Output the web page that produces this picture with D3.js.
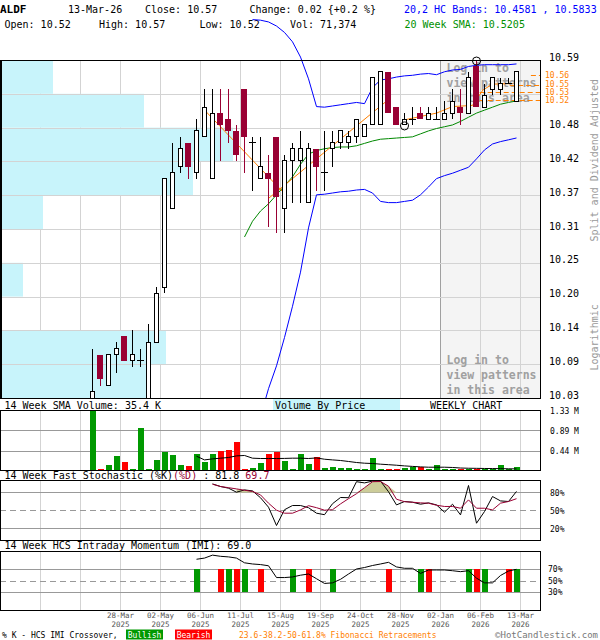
<!DOCTYPE html>
<html><head><meta charset="utf-8">
<script src="https://cdn.jsdelivr.net/npm/d3@7"></script>
<style>
body{margin:0;background:#fff;}
svg{display:block;font-family:"DejaVu Sans Mono","Liberation Mono",monospace;}
</style></head><body>
<svg id="c" width="600" height="640"></svg>
<script>
// ---------------- DATA ----------------
const ticker = "ALDF";
const lastDate = "13-Mar-26";
const lastVolumeText = "71,374";
const changePctText = "{+0.2 %}";
const open  = [10.02,10.10,10.05,10.10,10.13,10.09,10.09,10.02,10.12,10.21,10.34,10.41,10.45,10.40,10.46,10.39,10.50,10.49,10.47,10.54,10.45,10.39,10.40,10.46,10.34,10.42,10.42,10.35,10.44,10.40,10.44,10.45,10.45,10.46,10.46,10.48,10.48,10.57,10.51,10.48,10.49,10.50,10.49,10.49,10.49,10.50,10.51,10.50,10.58,10.51,10.54,10.54,10.55,10.52];
const high  = [10.11,10.10,10.10,10.12,10.13,10.14,10.11,10.15,10.21,10.39,10.45,10.46,10.45,10.49,10.54,10.54,10.54,10.54,10.48,10.54,10.46,10.46,10.43,10.46,10.43,10.45,10.47,10.45,10.44,10.47,10.47,10.47,10.47,10.49,10.48,10.56,10.57,10.57,10.51,10.50,10.51,10.51,10.51,10.51,10.52,10.54,10.54,10.57,10.59,10.55,10.56,10.56,10.56,10.57];
const low   = [10.02,10.05,10.05,10.07,10.09,10.08,10.08,10.02,10.12,10.20,10.34,10.40,10.39,10.39,10.46,10.39,10.42,10.45,10.42,10.40,10.37,10.39,10.31,10.30,10.30,10.35,10.35,10.35,10.37,10.37,10.41,10.44,10.44,10.45,10.46,10.48,10.48,10.50,10.48,10.48,10.48,10.49,10.49,10.49,10.49,10.49,10.48,10.50,10.51,10.51,10.53,10.53,10.55,10.52];
const close = [10.04,10.06,10.10,10.11,10.09,10.10,10.09,10.12,10.20,10.39,10.40,10.44,10.41,10.47,10.51,10.50,10.48,10.47,10.43,10.46,10.45,10.41,10.39,10.36,10.42,10.44,10.44,10.44,10.41,10.40,10.45,10.47,10.46,10.49,10.48,10.56,10.57,10.50,10.48,10.49,10.49,10.49,10.50,10.49,10.50,10.52,10.50,10.56,10.51,10.53,10.56,10.55,10.55,10.57];
const volumeM = [1.33,0.03,0.12,0.32,0.18,0.03,0.94,0.03,0.23,0.41,0.34,0.12,0.10,0.36,0.18,0.36,0.43,0.45,0.63,0.03,0.05,0.16,0.36,0.41,0.21,0.03,0.36,0.14,0.29,0.05,0.07,0.05,0.05,0.03,0.03,0.27,0.03,0.03,0.03,0.05,0.07,0.07,0.03,0.12,0.03,0.03,0.03,0.03,0.03,0.03,0.03,0.12,0.03,0.071];

const smaStart = 19;
const sma20 = [10.293,10.319,10.336,10.348,10.363,10.378,10.393,10.414,10.431,10.437,10.440,10.442,10.443,10.443,10.445,10.449,10.453,10.456,10.457,10.458,10.459,10.460,10.465,10.470,10.474,10.477,10.480,10.486,10.493,10.500,10.505,10.510,10.515,10.518,10.5205];
const bandStart = 20;
const upperBand = [10.659,10.658,10.655,10.648,10.637,10.621,10.595,10.558,10.511,10.510,10.512,10.514,10.516,10.518,10.516,10.543,10.556,10.558,10.561,10.563,10.564,10.566,10.567,10.565,10.570,10.573,10.574,10.579,10.581,10.582,10.582,10.582,10.582,10.5833];
const lowerBand = [9.98,10.00,10.045,10.082,10.128,10.179,10.235,10.308,10.363,10.364,10.366,10.368,10.369,10.371,10.372,10.366,10.352,10.350,10.350,10.352,10.354,10.363,10.376,10.390,10.395,10.399,10.404,10.409,10.423,10.438,10.448,10.452,10.455,10.4581];

const volSmaStart = 13;
const volSma14 = [0.317,0.235,0.257,0.273,0.288,0.324,0.333,0.273,0.266,0.266,0.266,0.268,0.273,0.273,0.266,0.279,0.250,0.235,0.222,0.200,0.177,0.162,0.155,0.140,0.129,0.117,0.102,0.091,0.080,0.073,0.073,0.073,0.067,0.055,0.050,0.048,0.045,0.043,0.041,0.038,0.0354];

const stochStart = 15;
const stochK = [94.3,90,87.2,80.5,84.3,82.7,71.3,55.5,25,51.3,58.3,58.3,54.7,45.5,43,61.3,71.7,71.3,98,96,99,99,81.3,59.3,65,63.8,60.5,62.7,59.3,47.2,60.5,42.7,91.7,28.8,48.3,73.3,66,65,81.8];
const stochD = [93.8,90,88,86,83.8,81.7,76,62.2,50.5,45.5,45.5,51,58,54.7,50.5,51.3,61,69.7,78,88,98,98.3,90.5,68.8,64.7,63.8,62.7,62.2,58.8,56.7,56.7,53.8,67.7,53.8,53.8,51,62.2,65,69.7];
const stochFillRanges = [[18,21],[32,39]];

const imiStart = 13;
const imi = [86,88,93,91,90,88,80,78,77,75,55,55,56,59,61,53,45,46,52,61,69.5,72,75.4,78,80.8,73,70.7,70.7,62,67.8,67.8,67.8,66.6,65,66.6,54,46,46,58.5,66,69];
const imiSignalIdx  = [13,16,17,18,19,21,25,27,30,37,41,42,47,48,49,52,53];
const imiSignalType = ["bull","bear","bull","bear","bull","bear","bull","bear","bull","bear","bull","bear","bull","bear","bull","bear","bull"];

// volume by price, bottom bin to top bin (millions of shares)
const vbpVolumeM = [1.47,1.66,0,0.23,0,0.43,1.93,2.33,1.44,0.53];

// Fibonacci
const fibLevels = [10.564,10.548,10.535,10.522];
const fibLabels = ["10.56","10.55","10.53","10.52"];
const fibStartIdx = [54.8,52.2,48.4,48.4];
const swingIdx = [39,48];
const swingPrice = [10.48,10.59];
const trendLines = [
  [[13.8,10.508],[24.0,10.365]],
  [[22.0,10.357],[37.0,10.523]],
  [[38.8,10.488],[43,10.500],[45,10.511],[47.5,10.513],[48.8,10.539],[50,10.549],[52.5,10.550]]
];

// axes
const priceTickLabels = ["10.03","10.09","10.14","10.20","10.25","10.31","10.37","10.42","10.48","","10.59"];
const gridIdx = [-7,-2,3,8,13,18,23,28,33,38,43,48,53];
const dateTickIdx = [3,8,13,18,23,28,33,38,43,48,53];
const dateLabels = ["28-Mar","02-May","06-Jun","11-Jul","15-Aug","19-Sep","24-Oct","28-Nov","02-Jan","06-Feb","13-Mar"];
const yearLabels = ["2025","2025","2025","2025","2025","2025","2025","2025","2026","2026","2026"];
const volTicks = [1.33,0.89,0.44];
const volTickLabels = ["1.33 M","0.89 M","0.44 M"];
const stochTicks = [80,50,20];
const imiTicks = [70,50,30];
const patternAreaIdx = 43;

// ---------------- DRAW ----------------
const svg = d3.select("#c");
const N = open.length;
const RED = "#990033", GRN = "#009900", BRED = "#ff0000", CYAN = "#c8f4fb", ORANGE = "#ff8000";
const x = d3.scaleLinear().domain([0, N-1]).range([92.5, 516.5]);
const gx = i => x(i) + 3.5;
const PL = 0, PR = 540, PT = 60, PB = 398;
const yP = d3.scaleLog().domain([10.03, 10.59]).range([PB, PT]);
const yV = d3.scaleLinear().domain([0, 1.33]).range([470.5, 410.5]);
const yS = d3.scaleLinear().domain([0, 100]).range([540.5, 480.5]);
const yI = d3.scaleLinear().domain([0, 100]).range([610, 551]);
const vbpX = d3.scaleLinear().domain([0, 5.4]).range([0, 540]);

svg.append("rect").attr("width",600).attr("height",640).attr("fill","#fff");

function txt(g, xx, yy, s, opt={}) {
  const t = g.append("text").attr("x",xx).attr("y",yy).text(s)
    .attr("font-size", opt.size || 10).attr("fill", opt.fill || "#000");
  if (opt.weight) t.attr("font-weight", opt.weight);
  if (opt.anchor) t.attr("text-anchor", opt.anchor);
  return t;
}
// header
const hdr = svg.append("g");
txt(hdr, 0, 12.5, ticker, {weight:"bold", size:11});
txt(hdr, 68, 12.5, lastDate);
txt(hdr, 145, 12.5, "Close: " + close[N-1].toFixed(2));
txt(hdr, 249.5, 12.5, "Change: " + (close[N-1]-close[N-2]).toFixed(2) + " " + changePctText);
txt(hdr, 404, 12.5, "20,2 HC Bands: " + lowerBand[lowerBand.length-1].toFixed(4) + " , " + upperBand[upperBand.length-1].toFixed(4), {fill:"#0000ff"});
txt(hdr, 4.5, 28, "Open: " + open[N-1].toFixed(2));
txt(hdr, 99, 28, "High: " + high[N-1].toFixed(2));
txt(hdr, 199.5, 28, "Low: " + low[N-1].toFixed(2));
txt(hdr, 290, 28, "Vol: " + lastVolumeText);
txt(hdr, 404.5, 28, "20 Week SMA: " + sma20[sma20.length-1].toFixed(4), {fill:"#009000"});

// clip
const defs = svg.append("defs");
defs.append("clipPath").attr("id","plotclip").append("rect").attr("x",PL).attr("y",PT).attr("width",PR-PL).attr("height",PB-PT);
defs.append("clipPath").attr("id","bandclip").append("rect").attr("x",PL).attr("y",0).attr("width",PR-PL).attr("height",PB);

const main = svg.append("g");
main.append("rect").attr("x",gx(patternAreaIdx)).attr("y",PT).attr("width",PR-gx(patternAreaIdx)).attr("height",PB-PT).attr("fill","#f4f4f4");
main.selectAll("line.vg").data(gridIdx).join("line")
  .attr("x1",d=>gx(d)+0.5).attr("x2",d=>gx(d)+0.5).attr("y1",PT).attr("y2",PB)
  .attr("stroke",d=>d===patternAreaIdx?"#a0a0a0":"#d3d3d3").attr("stroke-width",1);
const lr = Math.log(10.59/10.03);
const binEdges = d3.range(11).map(k => 10.03*Math.exp(lr*k/10));
main.append("g").attr("clip-path","url(#plotclip)").selectAll("rect").data(vbpVolumeM).join("rect")
  .attr("x",PL).attr("y",(d,k)=>yP(binEdges[k+1])).attr("width",d=>vbpX(d))
  .attr("height",(d,k)=>yP(binEdges[k])-yP(binEdges[k+1])).attr("fill",CYAN);
main.selectAll("line.hg").data(binEdges).join("line")
  .attr("x1",PL).attr("x2",PR).attr("y1",d=>Math.round(yP(d))+0.5).attr("y2",d=>Math.round(yP(d))+0.5)
  .attr("stroke","#d3d3d3");
const loginLines = ["Log in to","view patterns","in this area"];
[71.5, 363.5].forEach(base => {
  loginLines.forEach((s,k) => txt(main, gx(patternAreaIdx)+6.5, base+15*k, s, {size:11.5, weight:"bold", fill:"#a0a0a0"}));
});
main.selectAll("line.fib").data(fibLevels).join("line")
  .attr("x1",(d,k)=>x(fibStartIdx[k])).attr("x2",PR)
  .attr("y1",d=>Math.round(yP(d))+0.5).attr("y2",d=>Math.round(yP(d))+0.5)
  .attr("stroke",ORANGE).attr("stroke-dasharray","5,3");
main.selectAll("text.fib").data(fibLevels).join("text")
  .attr("x",545).attr("y",d=>yP(d)+2.5).attr("font-size",8).attr("fill",ORANGE)
  .text((d,k)=>fibLabels[k]);

const lineFn = d3.line().x(d=>x(d[0])).y(d=>yP(d[1]));
const series = (arr, start) => arr.map((v,k)=>[start+k, v]);
const bandG = main.append("g").attr("clip-path","url(#bandclip)");
bandG.append("path").attr("d",lineFn(series(upperBand,bandStart))).attr("fill","none").attr("stroke","#0000ff");
bandG.append("path").attr("d",lineFn(series(lowerBand,bandStart))).attr("fill","none").attr("stroke","#0000ff");
const plotG = main.append("g").attr("clip-path","url(#plotclip)");
plotG.append("path").attr("d",lineFn(series(sma20,smaStart))).attr("fill","none").attr("stroke","#008800");
trendLines.forEach(tl => plotG.append("path").attr("d",lineFn(tl)).attr("fill","none").attr("stroke",ORANGE));

const cg = plotG.append("g").attr("shape-rendering","crispEdges");
d3.range(N).forEach(i => {
  const cx = x(i), o=open[i], c=close[i], h=high[i], l=low[i];
  const down = c < o, up = c > o;
  cg.append("line").attr("x1",cx).attr("x2",cx).attr("y1",yP(h)).attr("y2",yP(l)).attr("stroke",down?RED:"#000");
  if (up) {
    cg.append("rect").attr("x",cx-2).attr("y",yP(c)).attr("width",4).attr("height",Math.max(1,yP(o)-yP(c)))
      .attr("fill","#fff").attr("stroke","#000");
  } else if (down) {
    cg.append("rect").attr("x",cx-3.5).attr("y",yP(o)).attr("width",6).attr("height",Math.max(1,yP(c)-yP(o))).attr("fill",RED);
  } else {
    cg.append("line").attr("x1",cx-3.5).attr("x2",cx+3.5).attr("y1",yP(o)).attr("y2",yP(o)).attr("stroke","#000");
  }
});
main.selectAll("circle.sw").data(swingIdx).join("circle")
  .attr("cx",d=>x(d)).attr("cy",(d,k)=>yP(swingPrice[k])+1).attr("r",4)
  .attr("fill","none").attr("stroke","#000");
main.append("rect").attr("x",PL+0.5).attr("y",PT+0.5).attr("width",PR-PL).attr("height",PB-PT)
  .attr("fill","none").attr("stroke","#000");
main.append("line").attr("x1",1.5).attr("x2",1.5).attr("y1",PT).attr("y2",PB).attr("stroke","#000");
main.selectAll("text.pt").data(binEdges).join("text")
  .attr("x",549).attr("y",d=>yP(d)+0.5).attr("font-size",10).text((d,k)=>priceTickLabels[k]);
txt(main,0,0,"Split and Dividend Adjusted",{fill:"#999"}).attr("transform","translate(598,241.5) rotate(-90)");
txt(main,0,0,"Logarithmic",{fill:"#999"}).attr("transform","translate(598,370.5) rotate(-90)");

svg.append("rect").attr("x",273).attr("y",399).attr("width",127).attr("height",11).attr("fill",CYAN);
txt(svg, 4.5, 409, "14 Week SMA Volume: " + (volSma14[volSma14.length-1]*1000).toFixed(1) + " K");
txt(svg, 275, 409, "Volume By Price");
txt(svg, 430, 409, "WEEKLY CHART");

function panelGrid(g, y0, y1) {
  g.selectAll("line.vg").data(gridIdx).join("line")
    .attr("x1",d=>gx(d)+0.5).attr("x2",d=>gx(d)+0.5).attr("y1",y0).attr("y2",y1).attr("stroke","#d3d3d3");
}
const vp = svg.append("g");
panelGrid(vp, 410.5, 470.5);
vp.selectAll("line.hg").data(volTicks.slice(1)).join("line")
  .attr("x1",PL).attr("x2",PR).attr("y1",d=>Math.round(yV(d))+0.5).attr("y2",d=>Math.round(yV(d))+0.5).attr("stroke","#999");
vp.append("g").attr("shape-rendering","crispEdges").selectAll("rect").data(volumeM).join("rect")
  .attr("x",(d,i)=>x(i)-2.5).attr("width",6)
  .attr("y",d=>Math.min(yV(d),469.5)).attr("height",d=>Math.max(1,470.5-yV(d)))
  .attr("fill",(d,i)=>close[i]<open[i]?BRED:GRN);
vp.append("path").attr("d",d3.line().x(d=>x(d[0])).y(d=>yV(d[1]))(series(volSma14,volSmaStart)))
  .attr("fill","none").attr("stroke","#000");
vp.append("rect").attr("x",0.5).attr("y",410.5).attr("width",540).attr("height",60).attr("fill","none").attr("stroke","#000");
vp.selectAll("text.vt").data(volTicks).join("text").attr("x",550).attr("y",d=>yV(d)+3.5)
  .attr("font-size",8).text((d,k)=>volTickLabels[k]);

const sl = txt(svg, 4.5, 478.5, "14 Week Fast Stochastic (%K)");
sl.append("tspan").attr("fill",RED).text("(%D)");
sl.append("tspan").text(" : " + stochK[stochK.length-1].toFixed(1) + " ");
sl.append("tspan").attr("fill",RED).text(stochD[stochD.length-1].toFixed(1));
const sp = svg.append("g");
panelGrid(sp, 480.5, 540.5);
sp.selectAll("line.hg").data(stochTicks).join("line")
  .attr("x1",PL).attr("x2",PR).attr("y1",d=>yS(d)).attr("y2",d=>yS(d))
  .attr("stroke","#999").attr("stroke-dasharray",d=>d===50?"6,4":null);
const dSeries = series(stochD, stochStart), kSeries = series(stochK, stochStart);
stochFillRanges.forEach(([a,b]) => {
  const seg = dSeries.filter(d=>d[0]>=a && d[0]<=b);
  sp.append("path").attr("d", d3.area().x(d=>x(d[0])).y0(yS(80)).y1(d=>yS(Math.max(80,d[1])))(seg))
    .attr("fill","#cccc99");
});
const sLine = d3.line().x(d=>x(d[0])).y(d=>yS(d[1]));
sp.append("path").attr("d",sLine(kSeries)).attr("fill","none").attr("stroke","#000");
sp.append("path").attr("d",sLine(dSeries)).attr("fill","none").attr("stroke",RED);
sp.append("rect").attr("x",0.5).attr("y",480.5).attr("width",540).attr("height",60).attr("fill","none").attr("stroke","#000");
sp.selectAll("text.st").data(stochTicks).join("text").attr("x",550).attr("y",d=>yS(d)+3)
  .attr("font-size",8).text(d=>d+"%");

txt(svg, 4.5, 549, "14 Week HCS Intraday Momentum (IMI): " + imi[imi.length-1].toFixed(1));
const ip = svg.append("g");
panelGrid(ip, 551, 610);
ip.selectAll("line.hg").data(imiTicks).join("line")
  .attr("x1",PL).attr("x2",PR).attr("y1",d=>Math.round(yI(d))+0.5).attr("y2",d=>Math.round(yI(d))+0.5)
  .attr("stroke","#999").attr("stroke-dasharray",d=>d===50?"6,4":null);
ip.append("g").attr("shape-rendering","crispEdges").selectAll("rect").data(imiSignalIdx).join("rect")
  .attr("x",d=>x(d)-2.5).attr("width",6).attr("y",yI(70)).attr("height",yI(30)-yI(70))
  .attr("fill",(d,k)=>imiSignalType[k]==="bull"?GRN:BRED);
ip.append("path").attr("d",d3.line().x(d=>x(d[0])).y(d=>yI(d[1]))(series(imi,imiStart)))
  .attr("fill","none").attr("stroke","#000");
ip.append("rect").attr("x",0.5).attr("y",551.5).attr("width",540).attr("height",59).attr("fill","none").attr("stroke","#000");
ip.selectAll("text.it").data(imiTicks).join("text").attr("x",548).attr("y",d=>yI(d)+3)
  .attr("font-size",8).text(d=>d+"%");

const da = svg.append("g");
da.selectAll("text.d").data(dateTickIdx).join("text").attr("x",d=>gx(d)+0.5).attr("y",618)
  .attr("text-anchor","middle").attr("font-size",7.5).attr("fill","#555").text((d,k)=>dateLabels[k]);
da.selectAll("text.y").data(dateTickIdx).join("text").attr("x",d=>gx(d)+0.5).attr("y",627)
  .attr("text-anchor","middle").attr("font-size",7.5).attr("fill","#555").text((d,k)=>yearLabels[k]);

const lg = svg.append("g");
txt(lg, 2, 637.5, "% K - HCS IMI Crossover,", {size:8});
lg.append("rect").attr("x",126).attr("y",629.5).attr("width",37).attr("height",10).attr("fill",GRN);
txt(lg, 144.5, 637.5, "Bullish", {size:8, fill:"#fff", anchor:"middle"});
lg.append("rect").attr("x",175).attr("y",629.5).attr("width",37).attr("height",10).attr("fill",BRED);
txt(lg, 193.5, 637.5, "Bearish", {size:8, fill:"#fff", anchor:"middle"});
txt(lg, 239, 637.5, "23.6-38.2-50-61.8% Fibonacci Retracements", {size:8, fill:ORANGE});
txt(lg, 598, 637.8, "\u00A9HotCandlestick.com", {size:9, fill:"#777", anchor:"end"});
</script></body></html>
